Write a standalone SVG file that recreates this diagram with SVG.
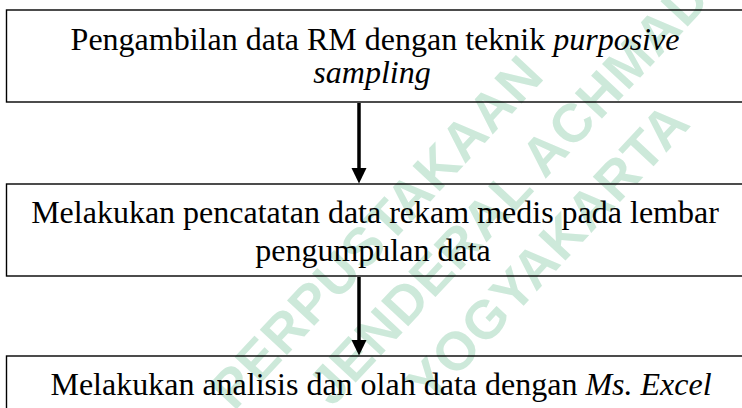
<svg xmlns="http://www.w3.org/2000/svg" width="742" height="408" viewBox="0 0 742 408">
<style>
.bg{fill:#ffffff}
.wm{font-family:'Liberation Sans',Arial,sans-serif;font-weight:bold;font-size:54px;fill:#cde9da;letter-spacing:1px}
.box{fill:none;stroke:#000000;stroke-width:1.4}
.t{font-family:'Liberation Serif','Times New Roman',Times,serif;font-size:32px;fill:#000000;text-anchor:middle}
.i{font-style:italic}
.conn{stroke:#000000;stroke-width:3.5;fill:none}
.head{fill:#000000}
</style>
<rect class="bg" x="0" y="0" width="742" height="408"/>
<g id="watermark">
<text class="wm" transform="translate(234,412) rotate(-47)">PERPUSTAKAAN</text>
<text class="wm" transform="translate(332,408) rotate(-47)">JENDERAL ACHMAD YANI</text>
<text class="wm" transform="translate(430,406) rotate(-47)">YOGYAKARTA</text>
</g>
<g id="node1">
<rect class="box" x="6.5" y="10" width="745" height="92"/>
<text class="t" x="375" y="50">Pengambilan data RM dengan teknik <tspan class="i">purposive</tspan></text>
<text class="t i" x="372" y="83">sampling</text>
</g>
<g id="node2">
<rect class="box" x="6.5" y="184" width="745" height="92"/>
<text class="t" x="375" y="223">Melakukan pencatatan data rekam medis pada lembar</text>
<text class="t" x="373" y="261">pengumpulan data</text>
</g>
<g id="node3">
<rect class="box" x="6.5" y="356" width="745" height="70"/>
<text class="t" x="381" y="395">Melakukan analisis dan olah data dengan <tspan class="i">Ms. Excel</tspan></text>
</g>
<g id="connectors">
<line class="conn" x1="359" y1="103" x2="359" y2="169"/>
<polygon class="head" points="351.5,168 366.5,168 359,183.5"/>
<line class="conn" x1="359" y1="277" x2="359" y2="341"/>
<polygon class="head" points="351.5,340 366.5,340 359,355.5"/>
</g>
</svg>
